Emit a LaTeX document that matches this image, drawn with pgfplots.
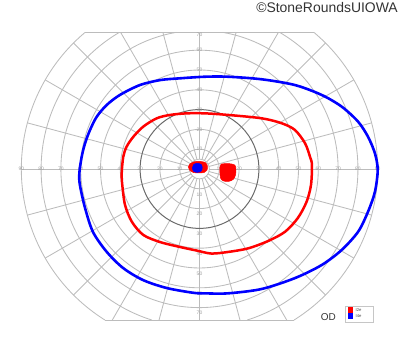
\documentclass[border=0pt]{standalone}
\usepackage{pgfplots}
\pgfplotsset{compat=1.18}
\usepackage{fontspec}
\setmainfont{Liberation Sans}
\definecolor{gridc}{HTML}{BCBCBC}
\definecolor{ringc}{HTML}{6A6A6A}
\definecolor{labc}{HTML}{A0A0A0}
\newcommand{\rl}[2]{\draw[gridc,line width=0.85bp] (axis cs:0,0) ++(#1:9.9bp) -- ++(#1:#2bp);}
\begin{document}
\begin{tikzpicture}
\begin{axis}[x=1.98bp,y=1.98bp,xmin=-100.76,xmax=101.26,ymin=-92.42,ymax=85.35,
  hide axis,clip=false,scale only axis]
\path (axis cs:-100.76,-92.42) rectangle (axis cs:101.26,85.35);
% rings
\pgfplotsinvokeforeach{5,10,20,40,50,60}{\draw[gridc,line width=0.85bp] (axis cs:0,0) circle[radius=#1*1.98bp];}
\draw[gridc,line width=0.85bp] (axis cs:0,0) ++(99.7:138.6bp) arc[start angle=99.7,end angle=440.3,radius=138.6bp];
\draw[gridc,line width=0.85bp] (axis cs:0,0) ++(120.4:158.4bp) arc[start angle=120.4,end angle=252.5,radius=158.4bp];
\draw[gridc,line width=0.85bp] (axis cs:0,0) ++(287.5:158.4bp) arc[start angle=287.5,end angle=419.6,radius=158.4bp];
\draw[gridc,line width=0.85bp] (axis cs:0,0) ++(129.95:178.2bp) arc[start angle=129.95,end angle=237.97,radius=178.2bp];
\draw[gridc,line width=0.85bp] (axis cs:0,0) ++(302.03:178.2bp) arc[start angle=302.03,end angle=410.05,radius=178.2bp];
\draw[gridc,line width=0.85bp] (axis cs:-57.8,69) -- (axis cs:57.8,69);
\draw[gridc,line width=0.85bp] (axis cs:-47.74,-76.3) -- (axis cs:47.74,-76.3);
% radial lines
\rl{0}{168.3}\rl{15}{168.3}\rl{30}{168.3}\rl{45}{168.3}\rl{60}{147.9}\rl{75}{131.5}
\rl{90}{126.7}\rl{105}{131.5}\rl{120}{147.9}\rl{135}{168.3}\rl{150}{168.3}\rl{165}{168.3}
\rl{180}{168.3}\rl{195}{168.3}\rl{210}{168.3}\rl{225}{168.3}\rl{240}{164.5}\rl{255}{146.5}
\rl{270}{141.2}\rl{285}{146.5}\rl{300}{164.5}\rl{315}{168.3}\rl{330}{168.3}\rl{345}{168.3}
\draw[ringc,line width=1bp] (axis cs:0,0) circle[radius=59.4bp];
% labels
\pgfplotsinvokeforeach{10,20,30,40,50,60,70,80,90}{
  \node[labc,font=\fontsize{5}{6}\selectfont,inner sep=0pt] at (axis cs:-#1,0) {#1};
  \node[labc,font=\fontsize{5}{6}\selectfont,inner sep=0pt] at (axis cs:#1,0) {#1};}
\pgfplotsinvokeforeach{10,20,30,40,50,60}{
  \node[labc,font=\fontsize{5}{6}\selectfont,inner sep=0pt] at (axis cs:0,#1) {#1};}
\node[labc,font=\fontsize{5}{6}\selectfont,inner sep=0pt] at (axis cs:0,68) {70};
\pgfplotsinvokeforeach{10,20,30,40,50,60,70}{
  \node[labc,font=\fontsize{5}{6}\selectfont,inner sep=0pt] at (axis cs:0,-#1-2.8) {#1};}
% I2e isopter
\addplot[red,line width=2.5bp,smooth cycle] coordinates {
(56.8,2.0)(55.8,6.2)(53.3,13.0)(48.2,19.7)(41.5,23.1)(31.4,25.6)(14.4,27.3)(2.8,28.1)
(-6.5,28.1)(-14.9,27.3)(-21.6,25.6)(-28.4,21.4)(-33.4,16.3)(-36.8,11.3)(-38.5,6.2)
(-39.3,-2.2)(-39.0,-8.1)(-37.6,-18.2)(-34.2,-26.6)(-28.4,-33.3)(-19.9,-36.9)(-9.8,-39.4)
(-1.4,-41.2)(6.0,-42.7)(14.4,-41.9)(24.5,-40.1)(34.6,-36.4)(43.2,-31.7)(49.7,-24.7)
(54.1,-16.5)(56.3,-8.1)};
% I4e isopter
\addplot[blue,line width=2.6bp,smooth cycle] coordinates {
(90.0,-0.5)(88.6,7.9)(85.1,16.3)(80.1,23.9)(71.8,31.5)(61.7,37.4)(48.2,42.4)(31.4,45.3)
(14.4,46.6)(2.8,46.6)(-9.8,45.8)(-19.9,44.9)(-30.1,42.4)(-40.2,37.4)(-46.9,32.3)
(-51.9,26.4)(-55.3,19.7)(-57.8,13.0)(-59.5,6.2)(-60.7,-2.2)(-60.4,-8.1)(-57.8,-19.7)
(-53.8,-31.8)(-46.9,-41.8)(-38.6,-50.0)(-28.5,-56.1)(-16.6,-60.1)(-3.3,-62.5)(2.8,-62.8)
(14.4,-62.8)(31.4,-60.6)(48.2,-55.1)(61.7,-48.5)(71.8,-40.9)(80.1,-31.7)(85.1,-21.6)
(88.6,-11.5)};
% blind spot
\addplot[red,fill=red,line width=0.5bp,smooth cycle] coordinates {
(11,2.5)(15,2.7)(17.8,2)(18.4,0)(18.2,-3)(17,-5.3)(14.5,-6.3)(12,-6)(10.6,-4.5)(10.3,-1)(10.4,1.5)};
% central
\addplot[red,fill=red,line width=0.5bp,smooth cycle] coordinates {
(-5.6,0.9)(-4.8,2.6)(-2.5,3.7)(0.5,3.8)(3,3.2)(4,1.5)(3.8,-0.5)(2.5,-1.7)(0,-2)(-3,-1.8)(-5,-0.6)};
\addplot[blue,fill=blue,line width=0.5bp,smooth cycle] coordinates {
(-3.6,0.6)(-3,2.2)(-1.1,2.9)(0.8,2.3)(1.4,0.6)(0.8,-1.1)(-1.1,-1.7)(-3,-1.1)};
% legend
\draw[gray!45,fill=white,line width=0.5bp] (axis cs:73.8,-69.2) rectangle (axis cs:87.8,-77.4);
\fill[red] (axis cs:74.8,-69.8) rectangle (axis cs:77.7,-72.6);
\fill[blue] (axis cs:74.8,-72.9) rectangle (axis cs:77.7,-75.8);
\node[anchor=west,black!70,font=\fontsize{4.2}{5}\selectfont,inner sep=0pt] at (axis cs:78.8,-71.2) {I2e};
\node[anchor=west,black!70,font=\fontsize{4.2}{5}\selectfont,inner sep=0pt] at (axis cs:78.8,-74.4) {I4e};
\node[black!80,font=\fontsize{10}{12}\selectfont,inner sep=0pt] at (axis cs:65.1,-74.8) {OD};
\node[anchor=base east,black!80,font=\fontsize{14}{16}\selectfont,inner sep=0pt] at (axis cs:100.25,78.8) {©StoneRoundsUIOWA};
\end{axis}
\end{tikzpicture}
\end{document}
